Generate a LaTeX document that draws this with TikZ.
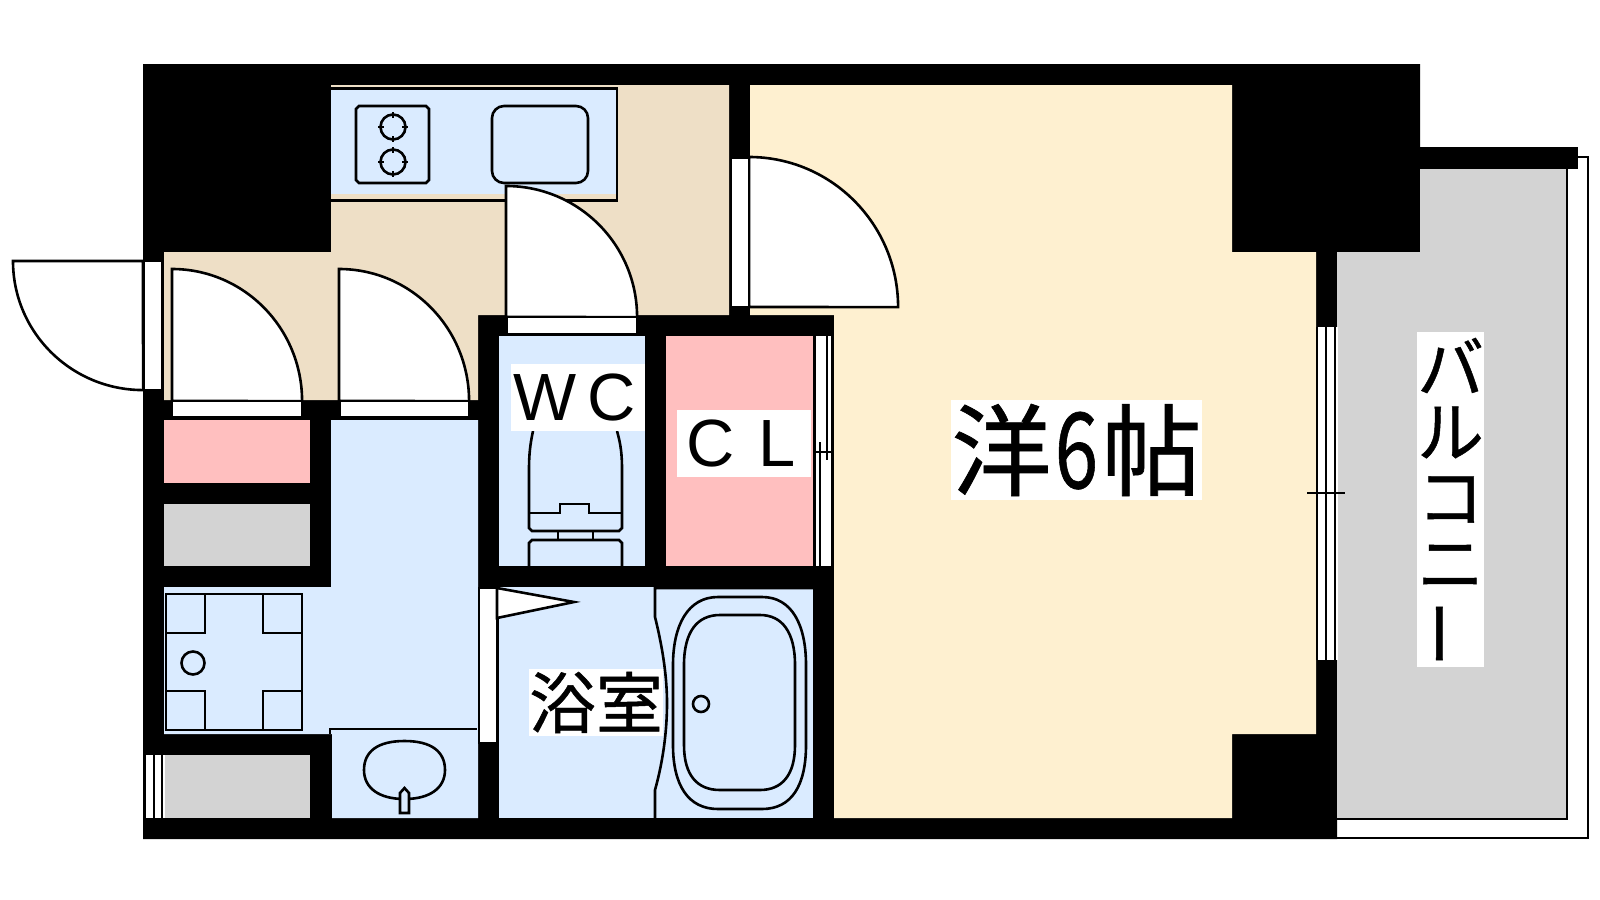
\documentclass[tikz,border=0pt]{standalone}
\usepackage{fontspec}
\setmainfont{Liberation Sans}
\newfontfamily\cjk[FakeBold=0.7]{Noto Sans CJK JP}
\definecolor{bathblue}{RGB}{218,235,255}
\definecolor{hallbeige}{RGB}{238,223,198}
\definecolor{roomcream}{RGB}{254,240,208}
\definecolor{closetpink}{RGB}{255,191,191}
\definecolor{floorgrey}{RGB}{211,211,211}
\newcommand{\fullw}[1]{\makebox[2.36mm][c]{#1}}

\begin{document}
\begin{tikzpicture}[x=0.01cm, y=-0.01cm, line join=miter,
    wire/.style={draw=black, line width=0.26mm},
    opening/.style={wire, fill=white},
    label/.style={fill=white, inner sep=0pt, minimum height=0.67cm, text=black, font=\fontsize{19}{19}\selectfont},
    kana/.style={label, minimum width=0.67cm, font=\fontsize{19}{19}\selectfont\cjk}]
    \useasboundingbox (0,0) rectangle (1600,900);
    \fill[white] (0,0) rectangle (1600,900);

    % Outer walls
    \fill[black] (143,64) -- (1420,64) -- (1420,252) -- (1337,252) -- (1337,839) -- (143,839) -- cycle;
    \fill[black] (1420,147) rectangle (1578,169);

    % Balcony
    \fill[floorgrey] (1337,252) -- (1420,252) -- (1420,169) -- (1567,169) -- (1567,818) -- (1337,818) -- cycle;
    \draw[wire] (1567,169) -- (1567,819) -- (1337,819);
    \draw[wire] (1578,157) -- (1588,157) -- (1588,838) -- (1325,838);

    % Rooms
    \fill[hallbeige] (164,252) -- (331,252) -- (331,85) -- (729,85) -- (729,315) -- (478,315) -- (478,400) -- (164,400) -- cycle;
    \fill[roomcream] (750,85) -- (1232,85) -- (1232,252) -- (1316,252) -- (1316,734) -- (1232,734) -- (1232,818) -- (834,818) -- (834,315) -- (750,315) -- cycle;
    \fill[closetpink] (164,420) rectangle (310,483);
    \fill[floorgrey] (164,504) rectangle (310,566);
    \fill[floorgrey] (164,755) rectangle (310,818);
    \fill[bathblue] (331,420) -- (478,420) -- (478,818) -- (332,818) -- (332,734) -- (164,734) -- (164,587) -- (331,587) -- cycle;
    \fill[bathblue] (499,336) rectangle (645,566);
    \fill[closetpink] (666,336) rectangle (813,566);
    \fill[bathblue] (499,587) rectangle (813,818);

    % Kitchen
    \fill[bathblue] (331,89) rectangle (617,194);
    \draw[wire] (331,88.5) -- (617,88.5) -- (617,200.5) -- (331,200.5);
    \draw[wire] (359,106) -- (426,106) -- (429,109) -- (429,180) -- (426,183) -- (359,183) -- (356,180) -- (356,109) -- cycle;
    \foreach \by in {127,162} {
        \draw[wire] (393,\by) circle (0.125cm);
        \draw[wire] (378,\by) -- (384,\by);
        \draw[wire] (402,\by) -- (408,\by);
        \draw[wire] (393,\by-15) -- (393,\by-9);
        \draw[wire] (393,\by+9) -- (393,\by+15);
    }
    \draw[wire, rounded corners=0.12cm] (492,106) rectangle (588,183);

    % Doors
    \draw[opening] (13,261) arc[start angle=180, end angle=270, x radius=1.30cm, y radius=1.29cm] -- (143,261) -- cycle;
    \draw[opening] (144,261) rectangle (162,390);
    \draw[opening] (172,269) arc[start angle=90, end angle=0, x radius=1.30cm, y radius=1.32cm] -- (172,401) -- cycle;
    \draw[opening] (172,401) rectangle (302,417);
    \draw[opening] (339,269) arc[start angle=90, end angle=0, x radius=1.30cm, y radius=1.32cm] -- (339,401) -- cycle;
    \draw[opening] (340,401) rectangle (469,417);
    \draw[opening] (506,186) arc[start angle=90, end angle=0, x radius=1.31cm, y radius=1.31cm] -- (506,317) -- cycle;
    \draw[opening] (507,317) rectangle (637,334);
    \draw[opening] (749,157) arc[start angle=90, end angle=0, x radius=1.49cm, y radius=1.50cm] -- (749,307) -- cycle;
    \draw[opening] (731,158) rectangle (749,307);
    \draw[opening] (479,588) rectangle (497,743);
    \draw[opening] (497,588) -- (574,602) -- (497,618) -- cycle;

    % Windows
    \fill[white] (144,755) rectangle (165,818);
    \draw[wire] (145,755) -- (145,818);
    \draw[wire] (154,755) -- (154,818);
    \draw[wire] (162,755) -- (162,818);
    \fill[white] (814,336) rectangle (833,566);
    \draw[wire] (815,336) -- (815,566);
    \draw[wire] (832,336) -- (832,566);
    \draw[wire] (827,336) -- (827,460);
    \draw[wire] (820,442) -- (820,566);
    \draw[wire] (814,452) -- (833,452);
    \fill[white] (1316,327) rectangle (1338,660);
    \draw[wire] (1317,327) -- (1317,660);
    \draw[wire] (1326,327) -- (1326,660);
    \draw[wire] (1335,327) -- (1335,660);
    \draw[wire] (1307,493) -- (1345,493);

    % Washing pan
    \draw[wire] (166,594) rectangle (302,730);
    \draw[wire] (205,594) -- (205,633) -- (166,633);
    \draw[wire] (263,594) -- (263,633) -- (302,633);
    \draw[wire] (205,730) -- (205,691) -- (166,691);
    \draw[wire] (263,730) -- (263,691) -- (302,691);
    \draw[wire] (193,663) circle (0.115cm);

    % Wash basin
    \draw[wire] (330,734) -- (330,729) -- (477,729);
    \draw[wire] (404.5,741) .. controls (432,741) and (445,752) .. (445,770) .. controls (445,788) and (430,799) .. (404.5,799) .. controls (379,799) and (364,788) .. (364,770) .. controls (364,752) and (377,741) .. (404.5,741) -- cycle;
    \draw[wire, fill=bathblue] (400,813) -- (400,793) -- (404.5,788) -- (409,793) -- (409,813) -- cycle;

    % Toilet
    \draw[wire] (533,431) .. controls (530,445) and (529,455) .. (529,470) -- (529,528) -- (532,531) -- (619,531) -- (622,528) -- (622,470) .. controls (622,455) and (621,445) .. (617,431);
    \draw[wire] (529,513) -- (560,513) -- (560,504) -- (589,504) -- (589,513) -- (622,513);
    \draw[wire] (558,531) -- (558,540);
    \draw[wire] (593,531) -- (593,540);
    \draw[wire] (529,566) -- (529,543) -- (532,540) -- (619,540) -- (622,543) -- (622,566);

    % Bath tub
    \draw[wire] (813,588) -- (655,588) -- (655,617) .. controls (662,645) and (667,675) .. (667,703) .. controls (667,735) and (662,765) .. (655,790) -- (655,818);
    \draw[wire] (718,597) -- (762,597) .. controls (792,597) and (806,625) .. (806,665) -- (806,745) .. controls (806,785) and (792,809) .. (762,809) -- (718,809) .. controls (688,809) and (673,785) .. (673,745) -- (673,665) .. controls (673,625) and (688,597) .. (718,597) -- cycle;
    \draw[wire] (720,615) -- (760,615) .. controls (782,615) and (795,632) .. (795,665) -- (795,745) .. controls (795,775) and (782,790) .. (760,790) -- (720,790) .. controls (697,790) and (684,775) .. (684,745) -- (684,665) .. controls (684,632) and (697,615) .. (720,615) -- cycle;
    \draw[wire] (701,704) circle (0.08cm);

    % Labels
    \node[label, minimum width=1.34cm] (wc) at (578,397.5) {\fullw{W}\hspace{4.3mm}\fullw{C}};
    \node[label, minimum width=1.34cm] (cl) at (744,443.5) {\fullw{C}\hspace{4.3mm}\fullw{L}};
    \node[kana, minimum width=1.34cm] (bath) at (596,702.5) {浴室};
    \node[label, minimum width=2.51cm, minimum height=1cm, font=\fontsize{28.45}{28.45}\selectfont\cjk] (room) at (1076.5,450) {洋\makebox[0.5cm][c]{\scalebox{0.78}[1.05]{6}}帖};

    % Balcony label
    \foreach \ch [count=\i from 0] in {バ,ル,コ,ニ} {
        \node[kana] (kana\i) at (1450.5,365.5+67*\i) {\ch};
    }
    \node[kana, rotate=90, xscale=-1] (kana4) at (1450.5,633.5) {ー};
\end{tikzpicture}
\end{document}
